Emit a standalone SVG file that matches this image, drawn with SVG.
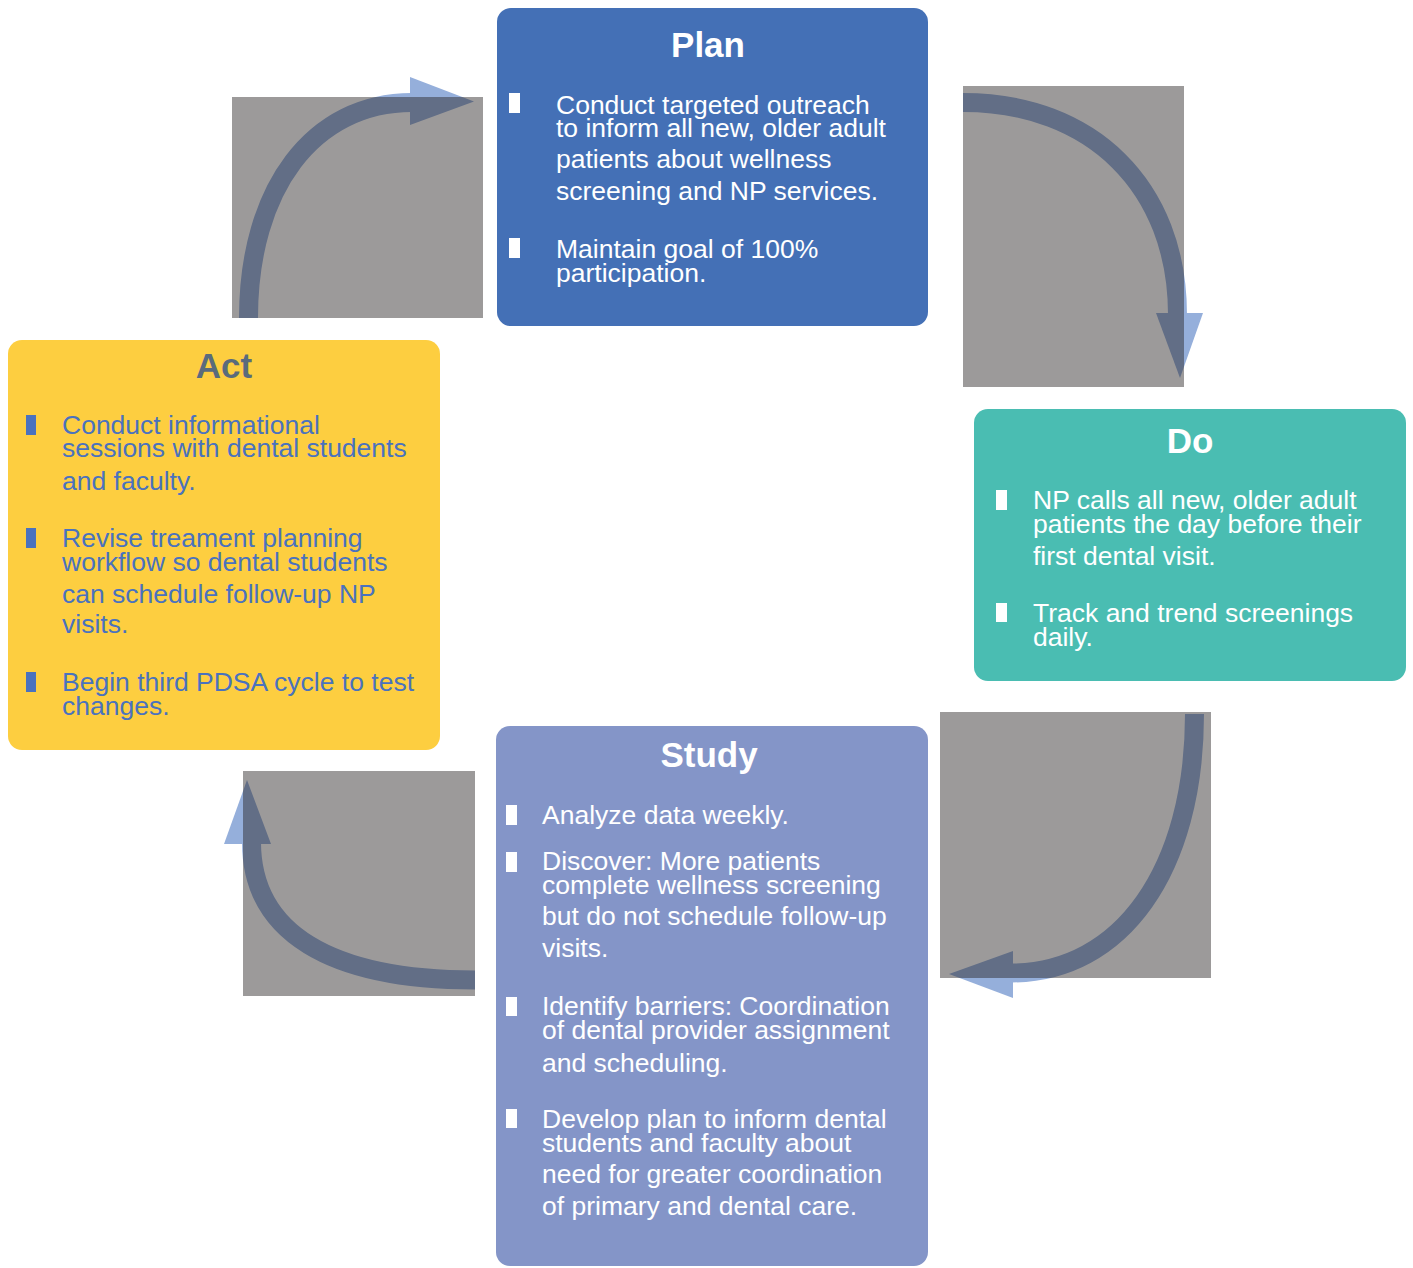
<svg xmlns="http://www.w3.org/2000/svg" width="1413" height="1268" viewBox="0 0 1413 1268">
<defs>
<style>
.body{font-family:"Liberation Sans",Arial,sans-serif;font-size:26.5px;}
.title{font-family:"Liberation Sans",Arial,sans-serif;font-size:35px;font-weight:bold;text-anchor:middle;}
.w{fill:#ffffff;}
.shaft{fill:none;stroke:#95AFDB;stroke-width:19;stroke-linecap:butt;}
.head{fill:#95AFDB;}
.shade{fill:#231F20;fill-opacity:0.45;}
</style>
</defs>
<rect width="1413" height="1268" fill="#ffffff"/>

<g id="connectors">
  <g id="act-to-plan">
    <path class="shaft" d="M248.5,318 C248.5,188.7 313.1,102.5 412,102.5"/>
    <polygon class="head" points="410,77 474,101.5 410,125"/>
    <rect class="shade" x="232" y="97" width="251" height="221"/>
  </g>
  <g id="plan-to-do">
    <path class="shaft" d="M963,102.5 C1091.7,102.5 1177.5,186.7 1177.5,315"/>
    <polygon class="head" points="1156,313 1203,313 1180,378"/>
    <rect class="shade" x="963" y="86" width="221" height="301"/>
  </g>
  <g id="do-to-study">
    <path class="shaft" d="M1194.5,714 C1194.5,869.4 1121.9,973 1011,973"/>
    <polygon class="head" points="1013,951 1013,998 949,974"/>
    <rect class="shade" x="940" y="712" width="271" height="266"/>
  </g>
  <g id="study-to-act">
    <path class="shaft" d="M475,980 C329.7,980 251.5,932.4 251.5,842"/>
    <polygon class="head" points="224,844 271,844 247,780"/>
    <rect class="shade" x="243" y="771" width="232" height="225"/>
  </g>
</g>

<g id="plan">
  <rect x="497" y="8" width="431" height="318" rx="14" fill="#4470B6"/>
  <text class="title w" x="708" y="57">Plan</text>
  <rect class="w" x="509" y="93" width="11" height="20"/>
  <text class="body w" x="556" y="114">Conduct targeted outreach</text>
  <text class="body w" x="556" y="137">to inform all new, older adult</text>
  <text class="body w" x="556" y="168">patients about wellness</text>
  <text class="body w" x="556" y="200">screening and NP services.</text>
  <rect class="w" x="509" y="238" width="11" height="20"/>
  <text class="body w" x="556" y="258">Maintain goal of 100%</text>
  <text class="body w" x="556" y="282">participation.</text>
</g>

<g id="do">
  <rect x="974" y="409" width="432" height="272" rx="14" fill="#4ABDB2"/>
  <text class="title w" x="1190" y="453">Do</text>
  <rect class="w" x="996" y="490" width="11" height="20"/>
  <text class="body w" x="1033" y="509">NP calls all new, older adult</text>
  <text class="body w" x="1033" y="533">patients the day before their</text>
  <text class="body w" x="1033" y="565">first dental visit.</text>
  <rect class="w" x="996" y="603" width="11" height="19"/>
  <text class="body w" x="1033" y="622">Track and trend screenings</text>
  <text class="body w" x="1033" y="646">daily.</text>
</g>

<g id="study">
  <rect x="496" y="726" width="432" height="540" rx="14" fill="#8495C8"/>
  <text class="title w" x="709" y="767">Study</text>
  <rect class="w" x="506" y="805" width="11" height="20"/>
  <text class="body w" x="542" y="824">Analyze data weekly.</text>
  <rect class="w" x="506" y="852" width="11" height="20"/>
  <text class="body w" x="542" y="870">Discover: More patients</text>
  <text class="body w" x="542" y="894">complete wellness screening</text>
  <text class="body w" x="542" y="925">but do not schedule follow-up</text>
  <text class="body w" x="542" y="957">visits.</text>
  <rect class="w" x="506" y="997" width="11" height="19"/>
  <text class="body w" x="542" y="1015">Identify barriers: Coordination</text>
  <text class="body w" x="542" y="1039">of dental provider assignment</text>
  <text class="body w" x="542" y="1072">and scheduling.</text>
  <rect class="w" x="506" y="1109" width="11" height="19"/>
  <text class="body w" x="542" y="1128">Develop plan to inform dental</text>
  <text class="body w" x="542" y="1152">students and faculty about</text>
  <text class="body w" x="542" y="1183">need for greater coordination</text>
  <text class="body w" x="542" y="1215">of primary and dental care.</text>
</g>

<g id="act">
  <rect x="8" y="340" width="432" height="410" rx="14" fill="#FDCE40"/>
  <text class="title" x="224" y="378" fill="#5A6B7C">Act</text>
  <g fill="#4A72BE">
  <rect x="26" y="415" width="10" height="20"/>
  <text class="body" x="62" y="434">Conduct informational</text>
  <text class="body" x="62" y="457">sessions with dental students</text>
  <text class="body" x="62" y="490">and faculty.</text>
  <rect x="26" y="528" width="10" height="20"/>
  <text class="body" x="62" y="547">Revise treament planning</text>
  <text class="body" x="62" y="571">workflow so dental students</text>
  <text class="body" x="62" y="603">can schedule follow-up NP</text>
  <text class="body" x="62" y="633">visits.</text>
  <rect x="26" y="672" width="10" height="20"/>
  <text class="body" x="62" y="691">Begin third PDSA cycle to test</text>
  <text class="body" x="62" y="715">changes.</text>
  </g>
</g>
</svg>
